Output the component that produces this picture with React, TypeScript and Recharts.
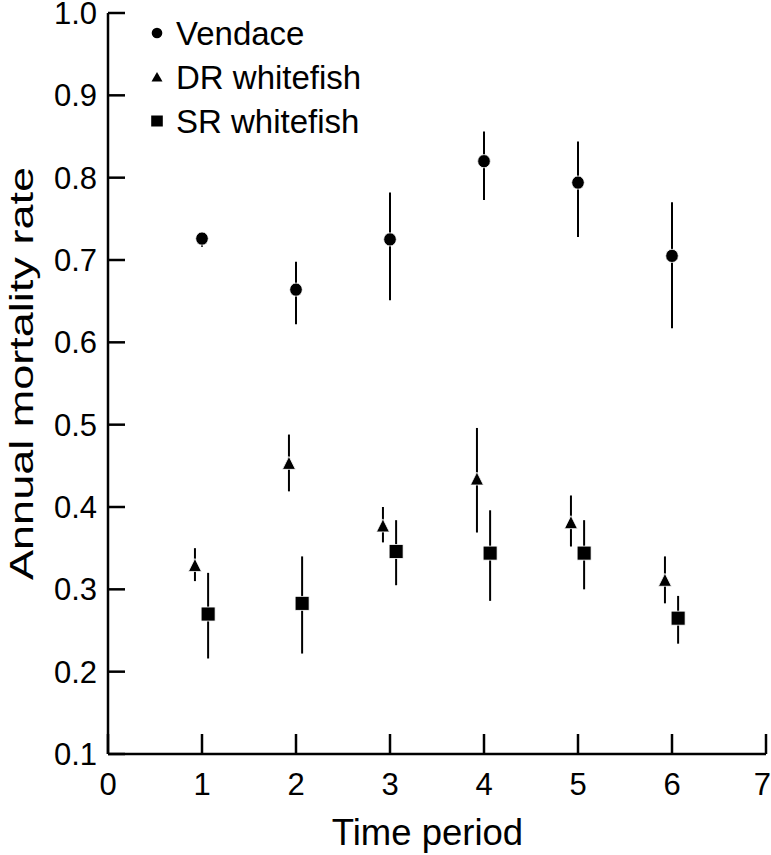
import { ScatterChart, Scatter, XAxis, YAxis, ErrorBar, Legend, Label } from "recharts";

const FONT = '"Liberation Sans", Arial, Helvetica, sans-serif';

const periods = [1, 2, 3, 4, 5, 6];

const vendace = [0.726, 0.664, 0.725, 0.82, 0.794, 0.705];
const vendaceLow = [0.716, 0.622, 0.651, 0.773, 0.728, 0.617];
const vendaceHigh = [0.727, 0.698, 0.782, 0.856, 0.844, 0.77];

const drWhitefish = [0.329, 0.453, 0.377, 0.434, 0.381, 0.311];
const drLow = [0.31, 0.419, 0.357, 0.369, 0.352, 0.283];
const drHigh = [0.35, 0.488, 0.4, 0.496, 0.414, 0.34];

const srWhitefish = [0.27, 0.283, 0.346, 0.344, 0.344, 0.265];
const srLow = [0.216, 0.222, 0.305, 0.286, 0.3, 0.234];
const srHigh = [0.32, 0.34, 0.384, 0.396, 0.384, 0.292];

// series are nudged sideways around each period so the bars don't overlap
const DR_SHIFT = -0.075;
const SR_SHIFT = 0.065;

const xTicks = [0, 1, 2, 3, 4, 5, 6, 7];
const yTicks = [0.1, 0.2, 0.3, 0.4, 0.5, 0.6, 0.7, 0.8, 0.9, 1.0];

function build(values: number[], low: number[], high: number[], shift: number) {
  return periods.map((p, i) => ({
    x: p + shift,
    y: values[i],
    err: [values[i] - low[i], high[i] - values[i]],
  }));
}

const vendaceData = build(vendace, vendaceLow, vendaceHigh, 0);
const drData = build(drWhitefish, drLow, drHigh, DR_SHIFT);
const srData = build(srWhitefish, srLow, srHigh, SR_SHIFT);

const Dot = (p: any) => (
  <ellipse cx={p.cx} cy={p.cy} rx={6.3} ry={6.6} fill="#000" stroke="#fff" strokeWidth={0.8} />
);
const Tri = (p: any) => (
  <polygon
    points={`${p.cx},${p.cy - 7} ${p.cx + 6.5},${p.cy + 6} ${p.cx - 6.5},${p.cy + 6}`}
    fill="#000"
    stroke="#fff"
    strokeWidth={0.8}
  />
);
const Sq = (p: any) => (
  <rect x={p.cx - 7} y={p.cy - 7} width={14} height={14} fill="#000" stroke="#fff" strokeWidth={0.8} />
);

const legendItems = [
  { name: "Vendace", shape: "circle" },
  { name: "DR whitefish", shape: "triangle" },
  { name: "SR whitefish", shape: "square" },
];

function LegendBox() {
  return (
    <svg width={320} height={150}>
      {legendItems.map((it, i) => {
        const cy = 33 + i * 44;
        const mx = 27;
        let marker;
        if (it.shape === "circle") marker = <circle cx={mx} cy={cy} r={5.3} fill="#000" />;
        else if (it.shape === "triangle")
          marker = <polygon points={`${mx},${cy - 5} ${mx + 5.5},${cy + 4.5} ${mx - 5.5},${cy + 4.5}`} fill="#000" />;
        else marker = <rect x={mx - 5.8} y={cy - 5.5} width={11.6} height={11} fill="#000" />;
        return (
          <g key={it.name}>
            {marker}
            <text x={46} y={45 + i * 44} fontSize={33} fontFamily={FONT} fill="#000">
              {it.name}
            </text>
          </g>
        );
      })}
    </svg>
  );
}

const axisStroke = { stroke: "#000", strokeWidth: 2.5 };
const tickStyle = { fill: "#000", fontSize: 31, fontFamily: FONT };

// the last x label sits flush with the right edge, as in the source figure
const XTick = (props: any) => {
  const { x, y, payload } = props;
  const last = payload.value === xTicks[xTicks.length - 1];
  return (
    <text
      x={last ? 771 : x}
      y={y + 41}
      textAnchor={last ? "end" : "middle"}
      fontSize={31}
      fontFamily={FONT}
      fill="#000"
    >
      {payload.value}
    </text>
  );
};

export default function App() {
  return (
    <div style={{ position: "absolute", left: 0, top: 0, background: "#fff" }}>
      <ScatterChart width={771} height={855} margin={{ top: 13, right: 5, bottom: 0, left: 0 }}>
        <XAxis
          type="number"
          dataKey="x"
          domain={[0, 7]}
          ticks={xTicks}
          interval={0}
          allowDataOverflow
          height={101}
          tickSize={-20}
          tickMargin={20}
          axisLine={axisStroke}
          tickLine={axisStroke}
          tick={<XTick />}
        >
          <Label
            content={(props: any) => {
              const vb = props.viewBox || { x: 108, y: 754, width: 658, height: 101 };
              return (
                <text
                  x={vb.x + vb.width / 2 - 9.5}
                  y={vb.y + 91}
                  textAnchor="middle"
                  fontSize={36.5}
                  fontFamily={FONT}
                  fill="#000"
                >
                  Time period
                </text>
              );
            }}
          />
        </XAxis>
        <YAxis
          type="number"
          dataKey="y"
          domain={[0.1, 1]}
          ticks={yTicks}
          interval={0}
          allowDataOverflow
          width={108}
          tickSize={-17}
          tickMargin={28}
          tickFormatter={(v: number) => v.toFixed(1)}
          axisLine={axisStroke}
          tickLine={axisStroke}
          tick={tickStyle}
        >
          <Label
            content={(props: any) => {
              const vb = props.viewBox || { x: 0, y: 13, width: 108, height: 741 };
              const cx = vb.x + 33;
              const cy = vb.y + vb.height / 2 - 10;
              return (
                <text
                  x={cx}
                  y={cy}
                  transform={`rotate(-90, ${cx}, ${cy})`}
                  textAnchor="middle"
                  fontSize={33}
                  fontFamily={FONT}
                  fill="#000"
                  textLength={413}
                  lengthAdjust="spacingAndGlyphs"
                >
                  Annual mortality rate
                </text>
              );
            }}
          />
        </YAxis>
        <Legend
          layout="horizontal"
          align="center"
          verticalAlign="middle"
          wrapperStyle={{ left: 130, top: 0, width: 320, height: 150 }}
          content={() => <LegendBox />}
        />
        <Scatter name="Vendace" data={vendaceData} shape={Dot} isAnimationActive={false}>
          <ErrorBar dataKey="err" direction="y" width={0} stroke="#000" strokeWidth={2} />
        </Scatter>
        <Scatter name="DR whitefish" data={drData} shape={Tri} isAnimationActive={false}>
          <ErrorBar dataKey="err" direction="y" width={0} stroke="#000" strokeWidth={2} />
        </Scatter>
        <Scatter name="SR whitefish" data={srData} shape={Sq} isAnimationActive={false}>
          <ErrorBar dataKey="err" direction="y" width={0} stroke="#000" strokeWidth={2} />
        </Scatter>
      </ScatterChart>
    </div>
  );
}
